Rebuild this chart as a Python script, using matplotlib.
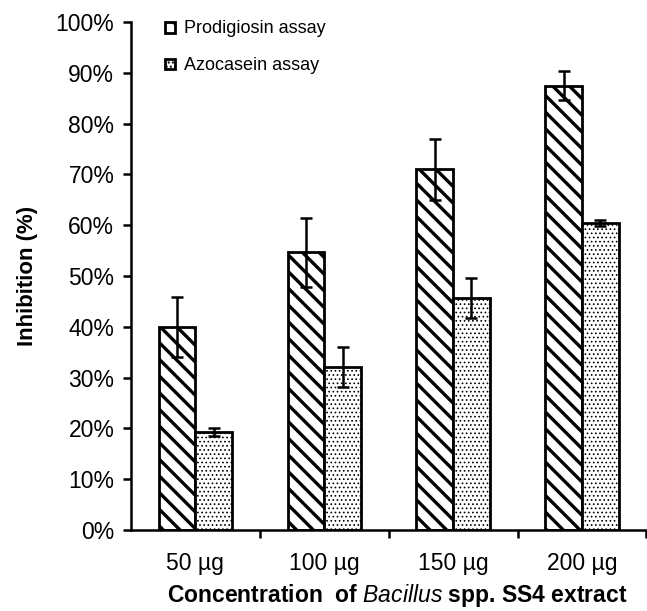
"""Inhibition of prodigiosin and azocasein assays by Bacillus extract."""

import numpy as np
import matplotlib
matplotlib.use("Agg")
import matplotlib.pyplot as plt
from matplotlib.ticker import FixedLocator, PercentFormatter

plt.rcParams["font.family"] = ["Liberation Sans", "DejaVu Sans"]
plt.rcParams["mathtext.fontset"] = "custom"
plt.rcParams["mathtext.it"] = "Liberation Sans:italic"
plt.rcParams["mathtext.rm"] = "Liberation Sans:bold"
plt.rcParams["hatch.color"] = "black"

categories = ["50 µg", "100 µg", "150 µg", "200 µg"]
prodigiosin = [40.0, 54.7, 71.0, 87.5]
prodigiosin_err = [5.9, 6.8, 6.0, 2.9]
azocasein = [19.3, 32.1, 45.7, 60.5]
azocasein_err = [0.8, 4.0, 4.0, 0.6]

x = np.arange(len(categories)) + 0.5
w = 0.285

fig = plt.figure(figsize=(6.47, 6.11), dpi=100)
ax = fig.add_axes([131 / 647, 81 / 611, 1 - 131 / 647 - 0.001, (530 - 22) / 611])

err_kw = dict(ecolor="black", elinewidth=1.8, capsize=4.5, capthick=1.8)

with plt.rc_context({"hatch.linewidth": 2.4}):
    ax.bar(x - w / 2, prodigiosin, w, yerr=prodigiosin_err, color="white",
           edgecolor="black", linewidth=2.0, hatch="\\\\", label="Prodigiosin assay",
           error_kw=err_kw, zorder=2)
with plt.rc_context({"hatch.linewidth": 0.7}):
    ax.bar(x + w / 2, azocasein, w, yerr=azocasein_err, color="white",
           edgecolor="black", linewidth=2.0, hatch="....", label="Azocasein assay",
           error_kw=err_kw, zorder=2)

ax.set_xlim(0, len(categories))
ax.set_ylim(0, 100)
ax.yaxis.set_major_locator(FixedLocator(np.arange(0, 101, 10)))
ax.yaxis.set_major_formatter(PercentFormatter(decimals=0))

ax.xaxis.set_major_locator(FixedLocator(np.arange(1, len(categories) + 1)))
ax.xaxis.set_major_formatter(plt.NullFormatter())
ax.xaxis.set_minor_locator(FixedLocator(x))
ax.set_xticklabels(categories, minor=True)
ax.tick_params(axis="x", which="minor", length=0, pad=16, labelsize=16.5)
ax.tick_params(axis="x", which="major", length=6, width=1.8, direction="out")
ax.tick_params(axis="y", length=6, width=1.8, labelsize=16.5, pad=6)

for side in ["top", "right"]:
    ax.spines[side].set_visible(False)
for side in ["left", "bottom"]:
    ax.spines[side].set_linewidth(1.8)

ax.set_ylabel("Inhibition (%)", fontsize=16, fontweight="bold", labelpad=13)
ax.set_xlabel(r"Concentration  of $\it{Bacillus}$ spp. SS4 extract", fontsize=16.5,
              fontweight="bold")
ax.xaxis.set_label_coords(0.517, -0.103)

ax.legend(loc="upper left", bbox_to_anchor=(0.035, 1.035), frameon=False, fontsize=13,
          handlelength=0.55, handleheight=0.55, handletextpad=0.5, labelspacing=1.1)

fig.savefig("out.png", dpi=100)
